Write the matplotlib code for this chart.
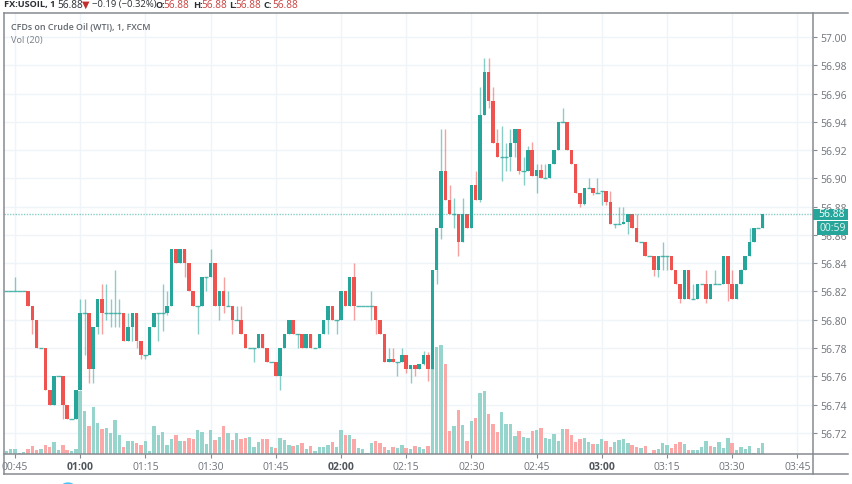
import matplotlib
matplotlib.use("Agg")
from matplotlib import pyplot as plt
from matplotlib.patches import Rectangle, Circle
from matplotlib.lines import Line2D

plt.rcParams['font.family'] = ['Open Sans', 'DejaVu Sans']

W, H = 852, 485

# one minute candles, first one sits two bars before 00:45
opens = [56.82,56.82,56.82,56.82,56.82,56.82,56.81,56.80,56.78,56.78,
         56.75,56.74,56.76,56.76,56.74,56.73,56.73,56.75,56.805,56.805,
         56.765,56.795,56.815,56.805,56.805,56.805,56.805,56.805,56.785,56.795,
         56.805,56.785,56.775,56.775,56.795,56.805,56.805,56.805,56.81,56.85,
         56.84,56.85,56.84,56.82,56.81,
         56.81,56.83,56.83,56.84,56.81,56.82,56.81,56.81,56.80,56.80,
         56.79,56.78,56.78,56.78,56.79,56.78,56.77,56.77,56.76,56.78,
         56.79,56.80,56.79,56.79,56.78,56.79,56.78,56.78,56.79,56.80,
         56.81,56.80,56.80,56.82,56.81,56.83,56.81,56.81,56.81,56.81,
         56.81,56.80,56.79,56.77,56.772,56.77,
         56.77,56.775,56.765,56.768,56.765,56.769,56.775,56.765,56.835,56.865,
         56.905,56.885,56.875,56.875,56.855,56.875,56.865,56.895,56.885,56.945,
         56.975,56.955,56.925,56.915,56.915,56.915,56.925,56.935,56.905,56.905,
         56.92,56.902,56.906,56.90,56.90,56.91,56.92,56.94,56.94,56.92,
         56.91,56.89,56.882,56.893,56.893,56.89,
         56.891,56.891,56.883,56.868,56.868,56.868,56.869,56.875,56.865,56.855,
         56.855,56.845,56.845,56.835,56.845,56.845,56.845,56.835,56.825,56.815,
         56.835,56.815,56.815,56.825,56.825,56.815,56.825,56.825,56.825,56.845,
         56.825,56.815,56.825,56.835,56.845,56.855,56.865,56.865]
closes = [56.82,56.82,56.82,56.82,56.82,56.81,56.80,56.78,56.78,56.75,
          56.74,56.76,56.76,56.74,56.73,56.73,56.75,56.805,56.805,56.765,
          56.795,56.815,56.805,56.805,56.805,56.805,56.805,56.785,56.795,56.805,
          56.785,56.775,56.775,56.795,56.805,56.805,56.805,56.81,56.85,56.84,
          56.85,56.84,56.82,56.81,56.81,
          56.83,56.83,56.84,56.81,56.82,56.81,56.81,56.80,56.80,56.79,
          56.78,56.78,56.78,56.79,56.78,56.77,56.77,56.76,56.78,56.79,
          56.80,56.79,56.79,56.78,56.79,56.78,56.78,56.79,56.80,56.81,
          56.80,56.80,56.82,56.81,56.83,56.81,56.81,56.81,56.81,56.81,
          56.80,56.79,56.77,56.772,56.77,56.77,
          56.775,56.765,56.768,56.765,56.769,56.775,56.765,56.835,56.865,56.905,
          56.885,56.875,56.875,56.855,56.875,56.865,56.895,56.885,56.945,56.975,
          56.955,56.925,56.915,56.915,56.915,56.925,56.935,56.905,56.905,56.92,
          56.902,56.906,56.90,56.90,56.91,56.92,56.94,56.94,56.92,56.91,
          56.89,56.882,56.893,56.893,56.89,56.89,
          56.891,56.883,56.868,56.868,56.868,56.869,56.875,56.865,56.855,56.855,
          56.845,56.845,56.835,56.845,56.845,56.845,56.835,56.825,56.815,56.835,
          56.815,56.815,56.825,56.825,56.815,56.825,56.825,56.825,56.845,56.825,
          56.815,56.825,56.835,56.845,56.855,56.865,56.865,56.875]
highs = [56.82,56.82,56.83,56.82,56.82,56.82,56.81,56.80,56.78,56.78,
         56.75,56.76,56.76,56.76,56.74,56.73,56.75,56.815,56.815,56.805,
         56.795,56.815,56.825,56.825,56.815,56.835,56.815,56.805,56.805,56.805,
         56.805,56.785,56.775,56.795,56.805,56.805,56.825,56.82,56.85,56.85,
         56.85,56.85,56.84,56.82,56.81,
         56.83,56.83,56.85,56.84,56.82,56.83,56.82,56.81,56.81,56.81,
         56.79,56.78,56.78,56.79,56.79,56.78,56.77,56.77,56.78,56.79,
         56.80,56.80,56.79,56.79,56.79,56.79,56.78,56.79,56.80,56.81,
         56.81,56.80,56.82,56.82,56.83,56.84,56.81,56.81,56.81,56.82,
         56.81,56.80,56.79,56.78,56.78,56.77,
         56.78,56.775,56.768,56.768,56.769,56.778,56.777,56.835,56.865,56.935,
         56.935,56.895,56.886,56.875,56.886,56.875,56.895,56.905,56.965,56.985,
         56.985,56.965,56.935,56.937,56.925,56.935,56.935,56.935,56.915,56.923,
         56.926,56.91,56.91,56.91,56.91,56.92,56.94,56.95,56.94,56.92,
         56.91,56.89,56.893,56.90,56.893,56.90,
         56.891,56.891,56.891,56.868,56.88,56.88,56.875,56.875,56.875,56.855,
         56.855,56.845,56.845,56.845,56.855,56.845,56.845,56.835,56.825,56.835,
         56.835,56.825,56.825,56.825,56.835,56.825,56.835,56.825,56.845,56.845,
         56.835,56.825,56.836,56.845,56.865,56.865,56.865,56.875]
lows = [56.82,56.82,56.82,56.82,56.82,56.81,56.79,56.78,56.78,56.75,
        56.74,56.74,56.76,56.73,56.73,56.73,56.73,56.75,56.775,56.755,
        56.755,56.79,56.79,56.80,56.795,56.795,56.795,56.785,56.785,56.785,
        56.78,56.772,56.772,56.775,56.795,56.785,56.792,56.803,56.81,56.84,
        56.84,56.83,56.82,56.81,56.79,
        56.81,56.82,56.83,56.81,56.80,56.805,56.81,56.79,56.80,56.79,
        56.78,56.78,56.77,56.78,56.78,56.77,56.77,56.76,56.75,56.78,
        56.79,56.79,56.78,56.78,56.78,56.78,56.78,56.78,56.79,56.79,
        56.80,56.79,56.80,56.81,56.81,56.80,56.81,56.81,56.81,56.80,
        56.79,56.79,56.77,56.77,56.77,56.76,
        56.77,56.762,56.755,56.76,56.765,56.768,56.757,56.765,56.825,56.857,
        56.885,56.875,56.865,56.845,56.855,56.865,56.865,56.885,56.883,56.945,
        56.95,56.925,56.915,56.898,56.905,56.905,56.915,56.903,56.895,56.905,
        56.902,56.89,56.90,56.90,56.90,56.91,56.92,56.94,56.92,56.91,
        56.89,56.88,56.881,56.893,56.888,56.89,
        56.881,56.881,56.868,56.865,56.868,56.868,56.861,56.865,56.855,56.855,
        56.845,56.845,56.831,56.83,56.835,56.835,56.835,56.825,56.812,56.815,
        56.815,56.815,56.815,56.825,56.812,56.815,56.825,56.825,56.825,56.813,
        56.815,56.815,56.825,56.835,56.845,56.855,56.865,56.865]

volumes = [10,15,15,3,5,15,25,13,15,28,
           20,35,12,27,13,8,15,190,128,85,
           140,92,75,78,62,103,57,20,38,38,
           32,27,40,10,85,57,66,27,46,57,
           38,38,48,44,72,
           65,30,72,43,52,85,62,42,62,45,
           48,50,20,37,45,45,20,18,48,43,
           27,25,28,33,15,25,8,20,20,27,
           36,20,72,58,58,46,17,14,4,33,
           40,33,22,13,22,18,
           28,17,14,24,22,15,24,300,320,327,
           270,70,85,133,87,38,100,107,183,188,
           120,90,65,127,90,90,55,70,50,48,
           70,73,79,48,44,59,38,75,75,57,
           36,44,48,37,31,29,
           45,40,22,37,42,44,32,27,20,17,
           24,4,11,15,33,26,17,29,35,31,
           11,13,11,22,39,23,22,35,18,48,
           33,12,21,15,23,2,17,32]
vol_dirs = ("gggggrrrgr" "rggrrggggr" "ggrggggrgg" "rrgggggggr" "grrrg"
            "gggrgrgrgr" "rgggrrgrgg" "grgrgrgggg" "rggrgrgggg" "rrrgrg"
            "grgrggrggg" "rrgrgrgrgg" "rrrggggrgg" "rgrgggggrr" "rrggrg"
            "grrggggrrg" "rgrgggrrrg" "rggggrgggg" "r" "ggggggg" "g")[:len(volumes)]

time_ticks = [0, 15, 30, 45, 60, 75, 90, 105, 120, 135, 150, 165, 180]
time_labels = ["00:45", "01:00", "01:15", "01:30", "01:45", "02:00", "02:15",
               "02:30", "02:45", "03:00", "03:15", "03:30", "03:45"]
bold_labels = ["01:00", "02:00", "03:00"]
price_ticks = [56.72, 56.74, 56.76, 56.78, 56.80, 56.82, 56.84, 56.86, 56.88,
               56.90, 56.92, 56.94, 56.96, 56.98, 57.00]
last_price = 56.875

GREEN = "#26a69a"
RED = "#ef5350"
GREEN_VOL = "#97d5cc"
RED_VOL = "#fba9a8"
GRID = "#eef4f8"
FRAME = "#868b91"
TICK_TEXT = "#6f747b"

x_vals = list(range(-2, len(opens) - 2))

fig = plt.figure(figsize=(W / 100, H / 100), dpi=100, facecolor="white")
rect = [4 / W, (H - 455) / H, 809 / W, 441 / H]

ax_vol = fig.add_axes(rect, zorder=1)
ax = fig.add_axes(rect, zorder=2)
ax.patch.set_alpha(0)

xlim = (-2.53, 183.6)
ax.set_xlim(*xlim)
ax.set_ylim(56.705, 57.017)
ax_vol.set_xlim(*xlim)
ax_vol.set_ylim(0, 441 * 3)

# grid lives on the volume axes so it stays under everything
ax_vol.set_xticks(time_ticks)
ax_vol.set_yticks([])
for t in time_ticks:
    ax_vol.axvline(t, color=GRID, lw=1, zorder=0)
for p in price_ticks:
    y = (p - 56.705) / (57.017 - 56.705)
    ax_vol.axhline(y * 441 * 3, color=GRID, lw=1, zorder=0)
ax_vol.set_xticklabels([])
ax_vol.tick_params(length=0)

vol_colors = [GREEN_VOL if d == "g" else RED_VOL for d in vol_dirs]
ax_vol.bar(x_vals, volumes, width=0.78, color=vol_colors, zorder=2)

for x, o, h, l, c in zip(x_vals, opens, highs, lows, closes):
    col = GREEN if c >= o else RED
    ax.plot([x, x], [l, h], color=col, lw=1, alpha=0.55, solid_capstyle="butt", zorder=3)
    if o == c:
        ax.plot([x - 0.5, x + 0.5], [o, o], color=col, lw=1, alpha=0.8, solid_capstyle="butt", zorder=4)
    else:
        ax.bar(x, abs(c - o), bottom=min(o, c), width=0.8, color=col, zorder=4)

ax.axhline(last_price, color=GREEN, lw=1, ls=(0, (1, 1)), alpha=0.55, zorder=5)

ax.set_xticks(time_ticks)
ax.set_xticklabels(time_labels, fontsize=7.5, color=TICK_TEXT)
for lab in ax.get_xticklabels():
    if lab.get_text() in bold_labels:
        lab.set_fontweight("bold")
        lab.set_color("#50555b")
ax.yaxis.tick_right()
ax.set_yticks(price_ticks)
ax.set_yticklabels(["%.2f" % p for p in price_ticks], fontsize=7.5, color=TICK_TEXT)
ax.tick_params(axis="x", length=3, width=0.8, color=FRAME, pad=2)
ax.tick_params(axis="y", length=3, width=0.8, color=FRAME, pad=2)

for a in (ax, ax_vol):
    for s in a.spines.values():
        s.set_visible(False)


def px_line(x0, y0, x1, y1):
    fig.add_artist(Line2D([x0 / W, x1 / W], [1 - y0 / H, 1 - y1 / H], color=FRAME, lw=1.1, zorder=10))


px_line(4, 14, 848, 14)
px_line(4, 455, 848, 455)
px_line(4, 475, 848, 475)
px_line(4, 14, 4, 475)
px_line(813, 14, 813, 475)


def px_text(x, y, s, **kw):
    fig.text(x / W, 1 - y / H, s, va="center", ha="left", zorder=20, **kw)


# header row
DARK = "#2a2e33"
VAL_RED = "#c8403f"
px_text(4, 5, "FX:USOIL, 1", fontsize=6.6, fontweight="bold", color=DARK)
px_text(57, 5, "56.88", fontsize=7.3, color=DARK)
px_text(82, 5, "\u25BC", fontsize=7, color="#c0302e", family=["DejaVu Sans"])
px_text(92, 5, "\u22120.19 (\u22120.32%)", fontsize=6.8, color=DARK)
for x_lab, lab, x_val in [(155, "O:", 163.5), (193, "H:", 201), (229, "L:", 235.5), (263, "C:", 272)]:
    px_text(x_lab, 5, lab, fontsize=6.6, fontweight="bold", color=DARK)
    px_text(x_val, 5, "56.88", fontsize=7.3, color=VAL_RED)

px_text(11, 27.5, "CFDs on Crude Oil (WTI), 1, FXCM", fontsize=6.4, fontweight="semibold", color="#62676d")
px_text(11, 40, "Vol (20)", fontsize=6.6, color="#7a7f85")

# last price and countdown tags on the scale
fig.add_artist(Rectangle((813 / W, 1 - 220.5 / H), 35 / W, 11 / H, transform=fig.transFigure,
                         facecolor=GREEN, edgecolor="none", zorder=15))
fig.add_artist(Rectangle((817 / W, 1 - 235.5 / H), 31 / W, 14 / H, transform=fig.transFigure,
                         facecolor=GREEN, edgecolor="none", zorder=15))
px_text(818, 215, "56.88", fontsize=7.5, color="white")
px_text(820, 228.5, "00:59", fontsize=7.5, color="#e4f5f2")

# bit of the widget button cut off by the bottom edge
fig.add_artist(Circle((68 / W, 1 - 487 / H), 0.0075, transform=fig.transFigure,
                      facecolor="#4fc3f7", edgecolor="none", zorder=15))

fig.savefig("out.png", dpi=100)
